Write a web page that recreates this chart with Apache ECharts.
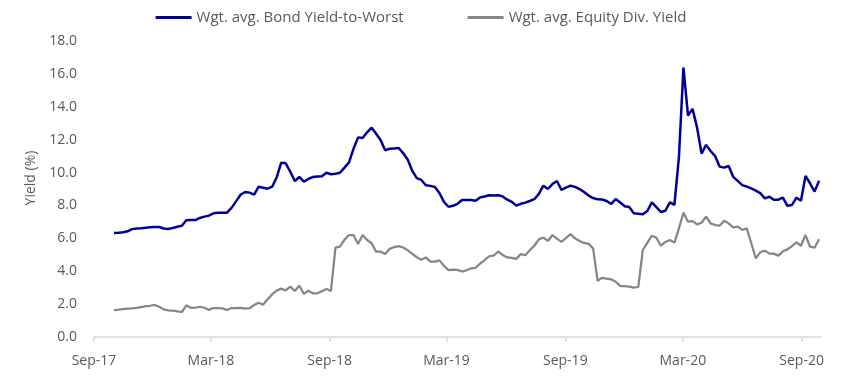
<!DOCTYPE html>
<html><head><meta charset="utf-8">
<script src="https://cdn.jsdelivr.net/npm/echarts@6/dist/echarts.min.js"></script>
<style>html,body{margin:0;padding:0;background:#fff}#c{width:842px;height:378px}</style>
</head><body><div id="c"></div>
<script>
const seriesNames = ['Wgt. avg. Bond Yield-to-Worst', 'Wgt. avg. Equity Div. Yield'];
const firstWeek = [2017, 10, 2]; // weekly observations start (y, m, d)
const bondYield = [
  6.33, 6.34, 6.37, 6.43, 6.56, 6.60, 6.62, 6.65, 6.68, 6.69,
  6.69, 6.60, 6.57, 6.63, 6.70, 6.76, 7.10, 7.11, 7.11, 7.24,
  7.32, 7.38, 7.52, 7.56, 7.56, 7.56, 7.85, 8.25, 8.65, 8.82,
  8.78, 8.66, 9.14, 9.08, 9.02, 9.14, 9.71, 10.60, 10.56, 10.05,
  9.49, 9.73, 9.45, 9.61, 9.73, 9.76, 9.77, 9.99, 9.90, 9.93,
  9.99, 10.30, 10.62, 11.45, 12.14, 12.10, 12.45, 12.73, 12.36, 11.96,
  11.36, 11.45, 11.47, 11.49, 11.17, 10.78, 10.10, 9.66, 9.55, 9.23,
  9.19, 9.12, 8.76, 8.22, 7.92, 7.98, 8.10, 8.33, 8.33, 8.33,
  8.29, 8.49, 8.54, 8.62, 8.60, 8.62, 8.55, 8.35, 8.22, 7.99,
  8.10, 8.17, 8.27, 8.38, 8.70, 9.20, 9.00, 9.30, 9.49, 8.95,
  9.08, 9.20, 9.13, 9.00, 8.82, 8.60, 8.45, 8.37, 8.36, 8.27,
  8.09, 8.39, 8.18, 7.95, 7.90, 7.53, 7.50, 7.47, 7.66, 8.19,
  7.90, 7.60, 7.68, 8.19, 8.03, 10.97, 16.38, 13.46, 13.87, 12.75,
  11.15, 11.68, 11.31, 11.00, 10.36, 10.30, 10.40, 9.74, 9.49, 9.24,
  9.14, 9.04, 8.90, 8.75, 8.43, 8.53, 8.35, 8.35, 8.47, 7.98,
  8.03, 8.47, 8.29, 9.79, 9.35, 8.84, 9.50
];
const equityYield = [
  1.64, 1.66, 1.69, 1.72, 1.74, 1.77, 1.81, 1.88, 1.90, 1.95,
  1.84, 1.68, 1.62, 1.60, 1.56, 1.52, 1.93, 1.77, 1.78, 1.84,
  1.78, 1.65, 1.76, 1.76, 1.74, 1.64, 1.76, 1.76, 1.77, 1.72,
  1.75, 1.95, 2.08, 1.97, 2.29, 2.60, 2.82, 2.94, 2.83, 3.06,
  2.80, 3.12, 2.62, 2.81, 2.66, 2.66, 2.78, 2.92, 2.80, 5.43,
  5.49, 5.92, 6.20, 6.20, 5.66, 6.20, 5.90, 5.70, 5.19, 5.19,
  5.05, 5.36, 5.47, 5.53, 5.44, 5.27, 5.05, 4.85, 4.70, 4.84,
  4.58, 4.58, 4.66, 4.33, 4.07, 4.10, 4.08, 3.98, 4.06, 4.18,
  4.21, 4.46, 4.68, 4.91, 4.95, 5.20, 4.98, 4.84, 4.81, 4.75,
  5.04, 4.97, 5.28, 5.55, 5.94, 6.04, 5.84, 6.20, 5.98, 5.78,
  6.02, 6.26, 6.00, 5.84, 5.72, 5.66, 5.39, 3.41, 3.60, 3.55,
  3.51, 3.36, 3.10, 3.10, 3.06, 3.00, 3.04, 5.29, 5.72, 6.16,
  6.04, 5.55, 5.78, 5.90, 5.74, 6.61, 7.56, 7.01, 7.05, 6.85,
  6.95, 7.32, 6.91, 6.81, 6.77, 7.07, 6.91, 6.67, 6.71, 6.51,
  6.61, 5.70, 4.79, 5.15, 5.25, 5.07, 5.07, 4.95, 5.21, 5.33,
  5.53, 5.76, 5.55, 6.20, 5.49, 5.43, 5.94
];
const tickDates = ['2017-09-01', '2018-03-01', '2018-09-01', '2019-03-01', '2019-09-01', '2020-03-01', '2020-09-01'];
const tickLabels = ['Sep-17', 'Mar-18', 'Sep-18', 'Mar-19', 'Sep-19', 'Mar-20', 'Sep-20'];
const axisStart = '2017-09-01';
const axisEnd = '2020-10-01';

const DAY = 86400000;
function toTime(s) { const p = s.split('-').map(Number); return Date.UTC(p[0], p[1] - 1, p[2]); }
const t0 = toTime(axisStart);
function toDay(t) { return Math.round((t - t0) / DAY); }
const weekDays = bondYield.map((_, i) => toDay(Date.UTC(firstWeek[0], firstWeek[1] - 1, firstWeek[2] + 7 * i)));
const tickDays = tickDates.map(s => toDay(toTime(s)));

const chart = echarts.init(document.getElementById('c'), null, { renderer: 'canvas' });
const txt = '#595959';
const font = 'Open Sans';
chart.setOption({
  animation: false,
  backgroundColor: '#ffffff',
  textStyle: { fontFamily: font },
  legend: {
    top: 5, left: 'center', itemGap: 64, itemWidth: 36, itemHeight: 3, icon: 'rect',
    textStyle: { color: txt, fontSize: 15, fontFamily: font },
    data: seriesNames
  },
  grid: { left: 94, right: 21, top: 41, bottom: 41 },
  xAxis: {
    type: 'value', min: 0, max: toDay(toTime(axisEnd)),
    axisLine: { show: true, lineStyle: { color: '#d9d9d9', width: 1.5 } },
    axisTick: { show: true, length: 5, lineStyle: { color: '#d9d9d9', width: 1.5 }, customValues: tickDays },
    axisLabel: {
      customValues: tickDays, color: txt, fontSize: 14, fontFamily: font, margin: 17,
      formatter: function (v) {
        const k = tickDays.indexOf(Math.round(v));
        return k >= 0 ? tickLabels[k] : '';
      }
    },
    splitLine: { show: false }
  },
  yAxis: {
    type: 'value', min: 0, max: 18, interval: 2,
    name: 'Yield (%)', nameLocation: 'middle', nameRotate: 90, nameGap: 56,
    nameTextStyle: { color: txt, fontSize: 14, fontFamily: font, padding: [0, 0, 0, 22] },
    axisLine: { show: false }, axisTick: { show: false }, splitLine: { show: false },
    axisLabel: { color: txt, fontSize: 14, fontFamily: font, margin: 17, formatter: v => v.toFixed(1) }
  },
  series: [
    {
      name: seriesNames[0], type: 'line', showSymbol: false, symbol: 'none',
      itemStyle: { color: '#000099' }, lineStyle: { color: '#000099', width: 2.5 },
      data: weekDays.map((d, i) => [d, bondYield[i]])
    },
    {
      name: seriesNames[1], type: 'line', showSymbol: false, symbol: 'none',
      itemStyle: { color: '#868686' }, lineStyle: { color: '#868686', width: 2.25 },
      data: weekDays.map((d, i) => [d, equityYield[i]])
    }
  ]
});
</script></body></html>
